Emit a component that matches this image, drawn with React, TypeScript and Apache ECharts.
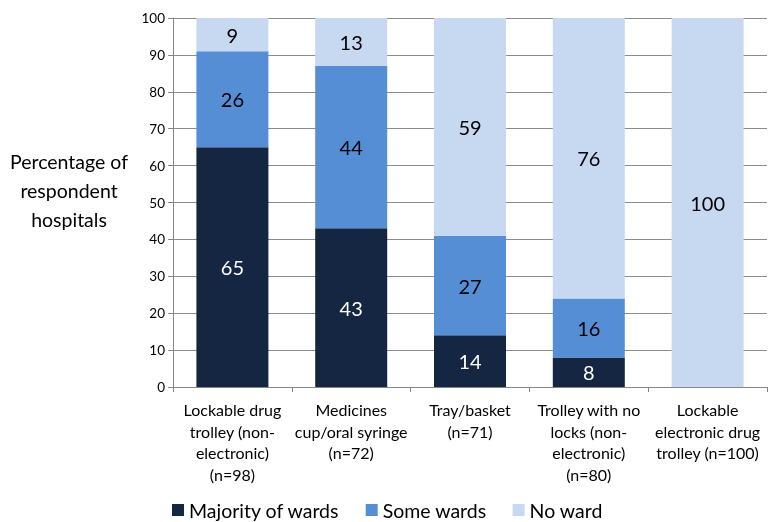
import React, { useEffect, useRef } from "react";
import * as echarts from "echarts";

const categories = [
  "Lockable drug\ntrolley (non-\nelectronic)\n(n=98)",
  "Medicines\ncup/oral syringe\n(n=72)",
  "Tray/basket\n(n=71)",
  "Trolley with no\nlocks (non-\nelectronic)\n(n=80)",
  "Lockable\nelectronic drug\ntrolley (n=100)",
];
const majorityOfWards = [65, 43, 14, 8, 0];
const someWards = [26, 44, 27, 16, 0];
const noWard = [9, 13, 59, 76, 100];
const yTicks = { min: 0, max: 100, interval: 10 };
const yAxisTitle = "Percentage of\nrespondent\nhospitals";

const FONT = "Lato, 'Noto Sans', sans-serif";

export default function App() {
  const ref = useRef<HTMLDivElement>(null);
  useEffect(() => {
    if (!ref.current) return;
    const chart = echarts.init(ref.current, undefined, { renderer: "svg" });
    const labelBase = {
      show: true,
      position: "inside" as const,
      fontFamily: FONT,
      fontSize: 20,
      formatter: (p: any) => (p.value > 0 ? String(p.value) : ""),
    };
    chart.setOption({
      animation: false,
      textStyle: { fontFamily: FONT },
      grid: { left: 173, right: 2, top: 18, bottom: 135, containLabel: false },
      legend: {
        left: 172,
        top: 500,
        padding: 0,
        itemWidth: 12,
        itemHeight: 12,
        itemGap: 26,
        icon: "rect",
        textStyle: { fontFamily: FONT, fontSize: 19.5, color: "#000" },
        data: ["Majority of wards", "Some wards", "No ward"],
      },
      graphic: [
        {
          type: "text",
          x: 69,
          y: 147,
          style: {
            text: yAxisTitle,
            fontFamily: FONT,
            fontSize: 19.5,
            lineHeight: 29,
            fill: "#000",
            textAlign: "center",
            align: "center",
          },
        },
      ],
      xAxis: {
        type: "category",
        data: categories,
        axisLine: { show: true, lineStyle: { color: "#868686", width: 1 } },
        axisTick: { show: true, length: 5, interval: 0, lineStyle: { color: "#868686" } },
        axisLabel: {
          interval: 0,
          margin: 12,
          fontFamily: FONT,
          fontSize: 16,
          lineHeight: 21.5,
          color: "#000",
          align: "center",
        },
      },
      yAxis: {
        type: "value",
        min: yTicks.min,
        max: yTicks.max,
        interval: yTicks.interval,
        axisLine: { show: true, lineStyle: { color: "#868686", width: 1 } },
        axisTick: { show: true, length: 5, lineStyle: { color: "#868686" } },
        axisLabel: { fontFamily: FONT, fontSize: 13.5, color: "#000", margin: 8 },
        splitLine: { show: true, lineStyle: { color: "#8c8c8c", width: 1 } },
      },
      series: [
        {
          name: "Majority of wards",
          type: "bar",
          stack: "total",
          barWidth: 72,
          data: majorityOfWards,
          itemStyle: { color: "#142641" },
          label: { ...labelBase, color: "#fff" },
        },
        {
          name: "Some wards",
          type: "bar",
          stack: "total",
          barWidth: 72,
          data: someWards,
          itemStyle: { color: "#558ED5" },
          label: { ...labelBase, color: "#000" },
        },
        {
          name: "No ward",
          type: "bar",
          stack: "total",
          barWidth: 72,
          data: noWard,
          itemStyle: { color: "#C6D9F1" },
          label: { ...labelBase, color: "#000" },
        },
      ],
    });
    return () => chart.dispose();
  }, []);
  return (
    <div
      ref={ref}
      style={{ position: "fixed", left: 0, top: 0, width: 769, height: 522 }}
    />
  );
}
